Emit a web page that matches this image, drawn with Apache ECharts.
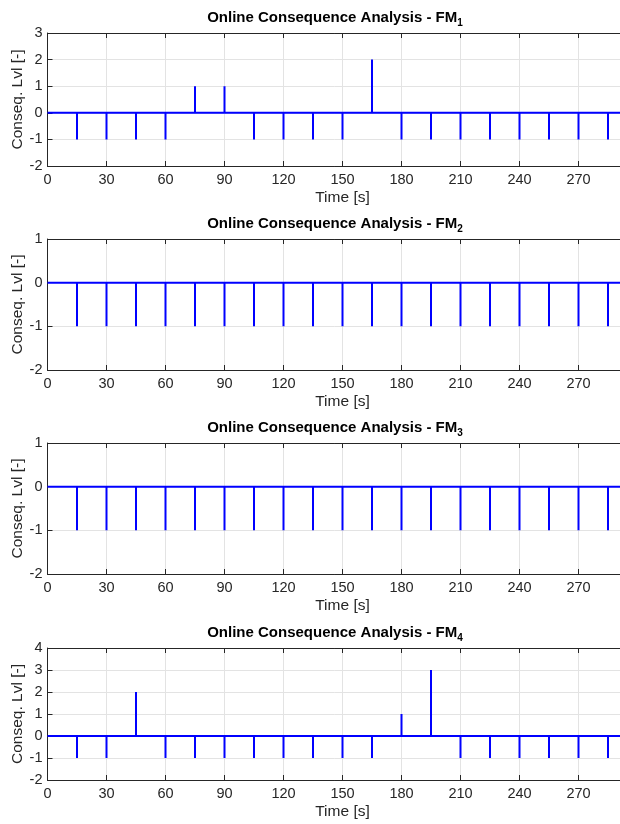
<!doctype html>
<html>
<head>
<meta charset="UTF-8">
<title>Online Consequence Analysis</title>
<script src="https://cdn.jsdelivr.net/npm/echarts@6/dist/echarts.min.js"></script>
<style>
  html, body { margin: 0; padding: 0; background: #fff; }
  #main { width: 620px; height: 824px; }
</style>
</head>
<body>
<div id="main"></div>
<script>
// stem times [s]
var times = [15, 30, 45, 60, 75, 90, 105, 120, 135, 150, 165, 180, 195, 210, 225, 240, 255, 270, 285];
// consequence level at each stem, one list per failure mode
var fm1 = [-1, -1, -1, -1, 1, 1, -1, -1, -1, -1, 2, -1, -1, -1, -1, -1, -1, -1, -1];
var fm2 = [-1, -1, -1, -1, -1, -1, -1, -1, -1, -1, -1, -1, -1, -1, -1, -1, -1, -1, -1];
var fm3 = [-1, -1, -1, -1, -1, -1, -1, -1, -1, -1, -1, -1, -1, -1, -1, -1, -1, -1, -1];
var fm4 = [-1, -1, 2, -1, -1, -1, -1, -1, -1, -1, -1, 1, 3, -1, -1, -1, -1, -1, -1];
var yMins = [-2, -2, -2, -2];
var yMaxs = [3, 1, 1, 4];
var xMax = 300;

var allFm = [fm1, fm2, fm3, fm4];
var tops = [33, 239, 443, 648];
var heights = [133, 131, 131, 132];
var txt = '#262626';
var font = 'Liberation Sans, Arial, Helvetica, sans-serif';

// baseline at 0 with a vertical stroke at every stem
function stemPath(vals) {
	var d = [[0, 0]];
	for (var i = 0; i < times.length; i++) {
		d.push([times[i], 0]);
		d.push([times[i], vals[i]]);
		d.push([times[i], 0]);
	}
	d.push([xMax, 0]);
	return d;
}

var grids = [], xAxes = [], yAxes = [], series = [], titles = [];
for (var i = 0; i < 4; i++) {
	grids.push({ left: 47.5, width: 590, top: tops[i], height: heights[i], outerBoundsMode: 'none', containLabel: false });
	titles.push({
		text: '{b|Online Consequence Analysis - FM}{s|' + (i + 1) + '}',
		left: 330, top: tops[i] - 28, textAlign: 'center',
		textStyle: {
			rich: {
				b: { fontFamily: font, fontSize: 15, fontWeight: 'bold', color: '#000', lineHeight: 18, verticalAlign: 'top' },
				s: { fontFamily: font, fontSize: 10, fontWeight: 'bold', color: '#000', lineHeight: 18, verticalAlign: 'bottom', padding: [10, 0, 0, 0] }
			}
		}
	});
	xAxes.push({
		gridIndex: i, type: 'value', min: 0, max: xMax, interval: 30,
		name: 'Time [s]', nameLocation: 'middle', nameGap: 24,
		nameTextStyle: { fontFamily: font, fontSize: 15.5, color: txt },
		axisLine: { onZero: false, lineStyle: { color: txt, width: 1 } },
		axisTick: { inside: true, length: 5, lineStyle: { color: txt } },
		axisLabel: { fontFamily: font, fontSize: 14.5, color: txt, margin: 6 },
		splitLine: { show: true, lineStyle: { color: '#e3e3e3', width: 1 } }
	});
	// mirrored top axis for the box and top ticks
	xAxes.push({
		gridIndex: i, type: 'value', min: 0, max: xMax, interval: 30, position: 'top',
		axisLine: { onZero: false, lineStyle: { color: txt, width: 1 } },
		axisTick: { inside: true, length: 5, lineStyle: { color: txt } },
		axisLabel: { show: false },
		splitLine: { show: false }
	});
	yAxes.push({
		gridIndex: i, type: 'value', min: yMins[i], max: yMaxs[i], interval: 1,
		name: 'Conseq. Lvl [-]', nameLocation: 'middle', nameGap: 22, nameRotate: 90,
		nameMoveOverlap: false,
		nameTextStyle: { fontFamily: font, fontSize: 15.5, color: txt },
		axisLine: { show: true, onZero: false, lineStyle: { color: txt, width: 1 } },
		axisTick: { show: true, inside: true, length: 5, lineStyle: { color: txt } },
		axisLabel: { fontFamily: font, fontSize: 14.5, color: txt, margin: 5 },
		splitLine: { show: true, lineStyle: { color: '#e3e3e3', width: 1 } }
	});
	series.push({
		type: 'line', xAxisIndex: i * 2, yAxisIndex: i,
		data: stemPath(allFm[i]),
		showSymbol: false, animation: false,
		lineStyle: { color: '#0000ff', width: 2 }
	});
}

var myChart = echarts.init(document.getElementById('main'));
myChart.setOption({
	backgroundColor: '#fff',
	animation: false,
	title: titles,
	grid: grids,
	xAxis: xAxes,
	yAxis: yAxes,
	series: series
});
</script>
</body>
</html>
